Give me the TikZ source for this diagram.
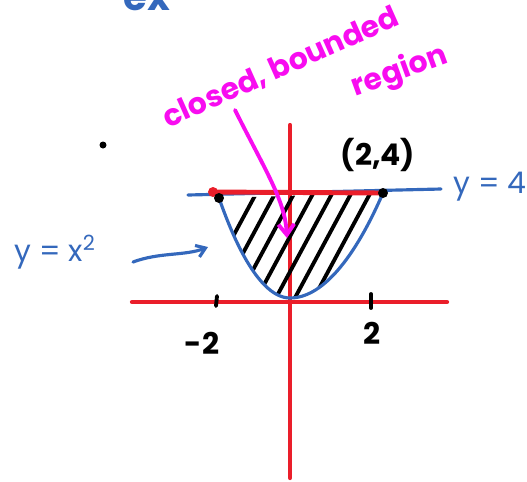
\documentclass[tikz,border=0pt]{standalone}
\usepackage{fontspec}
\setmainfont{Poppins}
\usetikzlibrary{arrows.meta}
\definecolor{axisred}{RGB}{234, 30, 42}
\definecolor{inkblue}{RGB}{52, 104, 188}
\definecolor{inkpink}{RGB}{248, 12, 240}

\begin{document}
\begin{tikzpicture}[
  x=0.02cm, y=-0.02cm, line cap=round, line join=round,
  axis/.style={draw=axisred, line width=2.4pt},
  curve/.style={draw=inkblue, line width=1.8pt},
  hatch/.style={draw=black, line width=2.2pt},
  tickmark/.style={draw=black, line width=2.2pt},
  ptdot/.style={circle, fill=black, inner sep=0pt, minimum size=0.2cm},
  bluelbl/.style={text=inkblue, font=\fontsize{17}{20}\selectfont, inner sep=0pt},
  pinklbl/.style={text=inkpink, font=\fontsize{17}{20}\selectfont\bfseries, inner sep=0pt},
  blacklbl/.style={text=black, font=\fontsize{17}{20}\selectfont\bfseries, inner sep=0pt}
]
\useasboundingbox (0,0) rectangle (527,481);

% Axes
\coordinate (xl) at (132,302);
\coordinate (xr) at (447,302);
\coordinate (yt) at (290,125);
\coordinate (yb) at (290,478);
\draw[axis] (xl) -- (xr);
\draw[axis] (yt) -- (yb);

% Ticks and tick labels
\draw[tickmark] (217,296) -- (216,306);
\draw[tickmark] (371,294) -- (371,308);
\node[blacklbl] (lblm) at (202,343) {-2};
\node[blacklbl] (lblp) at (372,333) {2};

% Parabola ends and vertex
\coordinate (pl) at (219,198);
\coordinate (vx) at (290,298);
\coordinate (pr) at (383,193);

% Hatching of the region
\begin{scope}
  \clip (pl) parabola bend (vx) (pr) -- cycle;
  \foreach \s in {0,...,12}
    \draw[hatch] (188+19*\s,320) -- ++(70,-130);
\end{scope}

% Line y = 4 and the curve y = x^2
\draw[curve] (188,195) -- (441,189);
\draw[curve] (pl) parabola bend (vx) (pr);

% Top edge of the region
\draw[axis, line width=2.8pt] (212,192) -- (pr);
\fill[axisred] (213,192) circle (5);
\node[ptdot] (dl) at (pl) {};
\node[ptdot] (dr) at (pr) {};
\node[blacklbl] (ptlbl) at (378,155) {(2,4)};

% Curve labels
\node[bluelbl] (eqline) at (490,187) {y = 4};
\node[bluelbl] (eqpar) at (55,252) {y = x\textsuperscript{2}};
\coordinate (bt) at (133,262);
\coordinate (bh) at (208,247);
\draw[curve, -{Straight Barb[length=5pt,width=7pt]}] (bt) .. controls (160,252) and (185,256) .. (bh);

% Region label
\node[pinklbl, rotate=24] (lblcb) at (281,68) {closed, bounded};
\node[pinklbl, rotate=20] (lblrg) at (400,72) {region};
\coordinate (mt) at (235,110);
\coordinate (mh) at (287,238);
\draw[draw=inkpink, line width=2.2pt, -{Straight Barb[length=6pt,width=9pt]}] (mt) .. controls (265,170) and (285,200) .. (mh);

% Stray mark and cut-off heading
\node[ptdot, minimum size=0.14cm] (stray) at (103,145) {};
\node[bluelbl, font=\fontsize{22}{24}\selectfont\bfseries] (lblex) at (147,0) {ex};
\end{tikzpicture}
\end{document}
